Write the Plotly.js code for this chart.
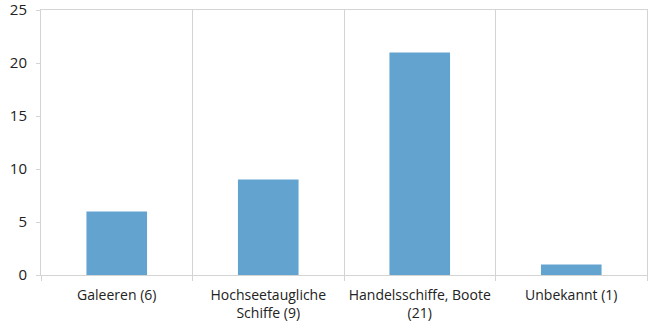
<!DOCTYPE html>
<html>
<head>
<meta charset="utf-8">
<script src="https://cdn.plot.ly/plotly-3.0.1.min.js"></script>
<style>html,body{margin:0;padding:0;background:#fff;}#chart{width:648px;height:322px;}</style>
</head>
<body>
<div id="chart"></div>
<script>
const categories = ["Galeeren (6)", "Hochseetaugliche<br>Schiffe (9)", "Handelsschiffe, Boote<br>(21)", "Unbekannt (1)"];
const values = [6, 9, 21, 1];
const yTicks = [0, 5, 10, 15, 20, 25];

const trace = {
  type: "bar",
  x: categories,
  y: values,
  width: 0.4,
  marker: {color: "#62a3d0"},
  hoverinfo: "skip"
};

const layout = {
  width: 648, height: 322,
  margin: {l: 41, r: 1, t: 10, b: 47},
  paper_bgcolor: "#fff", plot_bgcolor: "#fff",
  font: {family: "Open Sans, Noto Sans, sans-serif", size: 14, color: "#222"},
  showlegend: false,
  xaxis: {
    type: "category",
    tickson: "boundaries",
    showgrid: true, gridcolor: "#d4d4d4", gridwidth: 1,
    ticks: "outside", ticklen: 5, tickcolor: "#d4d4d4",
    showline: true, linecolor: "#d4d4d4", linewidth: 1, mirror: true,
    tickfont: {size: 14, color: "#222"},
    ticklabelstandoff: 7
  },
  yaxis: {
    range: [0, 25],
    tickvals: yTicks,
    showgrid: false, zeroline: false,
    ticks: "outside", ticklen: 4, tickcolor: "#d4d4d4",
    showline: true, linecolor: "#d4d4d4", linewidth: 1, mirror: true,
    tickfont: {size: 15, color: "#222"},
    ticklabelstandoff: 6,
    ticklabeloverflow: "allow"
  }
};

Plotly.newPlot("chart", [trace], layout, {displayModeBar: false, staticPlot: true});
</script>
</body>
</html>
